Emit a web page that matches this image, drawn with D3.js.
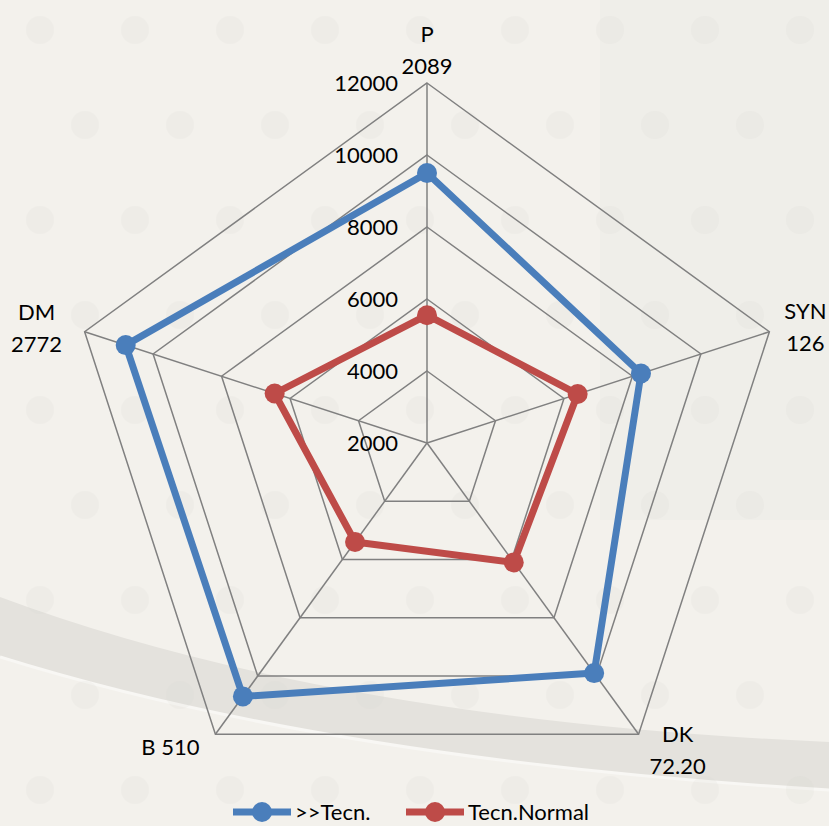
<!DOCTYPE html>
<html lang="en">
    <head>
        <meta charset="utf-8">
        <title>Radar</title>
        <style>
            body { margin: 0; background: #f2f0eb; }
            svg { display: block; }
            text { font-family: Lato, "Open Sans", sans-serif; fill: #000; }
        </style>
    </head>
    <body>
        <div id="chart"></div>
        <script src="https://cdn.jsdelivr.net/npm/d3@7"></script>
        <script>
            // axes (category name + second line)
            const categories = ["P", "SYN", "DK", "B 510", "DM"];
            const subLabels = ["2089", "126", "72.20", "", "2772"];
            const seriesNames = [">>Tecn.", "Tecn.Normal"];
            const tecn = [9500, 8250, 9900, 10700, 10800];
            const tecnNormal = [5550, 6400, 6100, 5400, 6450];
            const ticks = [2000, 4000, 6000, 8000, 10000, 12000];

            const W = 829, H = 826;
            const cx = 427, cy = 443;
            const colors = ["#4a7ebb", "#be4b48"];

            const svg = d3.select("#chart").append("svg")
                .attr("width", W)
                .attr("height", H);

            // background with a soft curved band
            svg.append("rect").attr("width", W).attr("height", H).attr("fill", "#f3f1ec");
            svg.append("rect").attr("x", 600).attr("width", 229).attr("height", 520).attr("fill", "#ebebe6").attr("opacity", 0.5);
            svg.append("path")
                .attr("d", "M0,597 Q330,720 829,742 L829,790 Q330,760 0,657 Z")
                .attr("fill", "#e4e2dd");
            svg.append("path")
                .attr("d", "M0,657 Q330,760 829,790")
                .attr("fill", "none").attr("stroke", "#f8f7f4").attr("stroke-width", 3);
            // faint dots
            const bg = svg.append("g").attr("fill", "#d6d5d0").attr("opacity", 0.14);
            for (let i = 0; i < 9; i++) {
                for (let j = 0; j < 9; j++) {
                    bg.append("circle")
                        .attr("cx", 40 + j * 95 + (i % 2) * 45)
                        .attr("cy", 30 + i * 95)
                        .attr("r", 14);
                }
            }

            const r = d3.scaleLinear().domain([2000, 12000]).range([0, 360]);
            const angle = d3.scaleLinear().domain([0, categories.length]).range([0, 2 * Math.PI]);

            function pt(i, v) {
                const a = angle(i);
                return [cx + r(v) * Math.sin(a), cy - r(v) * Math.cos(a)];
            }

            // grid pentagons
            const grid = svg.append("g").attr("stroke", "#808080").attr("stroke-width", 1.5).attr("fill", "none");
            ticks.slice(1).forEach(t => {
                grid.append("path")
                    .attr("d", d3.line()(categories.map((c, i) => pt(i, t))) + "Z");
            });
            categories.forEach((c, i) => {
                grid.append("line")
                    .attr("x1", cx).attr("y1", cy)
                    .attr("x2", pt(i, 12000)[0]).attr("y2", pt(i, 12000)[1]);
            });

            // tick labels
            svg.append("g").selectAll("text")
                .data(ticks)
                .join("text")
                .attr("x", cx - 29)
                .attr("y", d => cy - r(d))
                .attr("dy", "0.35em")
                .attr("text-anchor", "end")
                .attr("font-size", 22)
                .text(d => d);

            // category labels, offsets from the outer vertex
            const labelOffsets = [[0, -49], [36, -20], [39, 0], [-45, 13], [-48, -19]];
            categories.forEach((c, i) => {
                const p = pt(i, 12000);
                const t = svg.append("text")
                    .attr("x", p[0] + labelOffsets[i][0])
                    .attr("y", p[1] + labelOffsets[i][1])
                    .attr("text-anchor", "middle")
                    .attr("font-size", 22);
                t.append("tspan").attr("x", p[0] + labelOffsets[i][0]).attr("dy", "0.35em").text(c);
                if (subLabels[i]) {
                    t.append("tspan").attr("x", p[0] + labelOffsets[i][0]).attr("dy", "1.45em").text(subLabels[i]);
                }
            });

            // series
            [tecn, tecnNormal].forEach((vals, s) => {
                const pts = vals.map((v, i) => pt(i, v));
                svg.append("path")
                    .attr("d", d3.line()(pts) + "Z")
                    .attr("fill", "none")
                    .attr("stroke", colors[s])
                    .attr("stroke-width", 7)
                    .attr("stroke-linejoin", "round");
                svg.append("g").selectAll("circle")
                    .data(pts)
                    .join("circle")
                    .attr("cx", d => d[0])
                    .attr("cy", d => d[1])
                    .attr("r", 10)
                    .attr("fill", colors[s]);
            });

            // legend
            const legendX = [233, 406];
            seriesNames.forEach((n, s) => {
                const g = svg.append("g").attr("transform", `translate(${legendX[s]},812)`);
                g.append("line").attr("x1", 0).attr("x2", 58).attr("stroke", colors[s]).attr("stroke-width", 7);
                g.append("circle").attr("cx", 29).attr("r", 10).attr("fill", colors[s]);
                g.append("text").attr("x", 62).attr("dy", "0.35em").attr("font-size", 22).text(n);
            });
        </script>
    </body>
</html>
